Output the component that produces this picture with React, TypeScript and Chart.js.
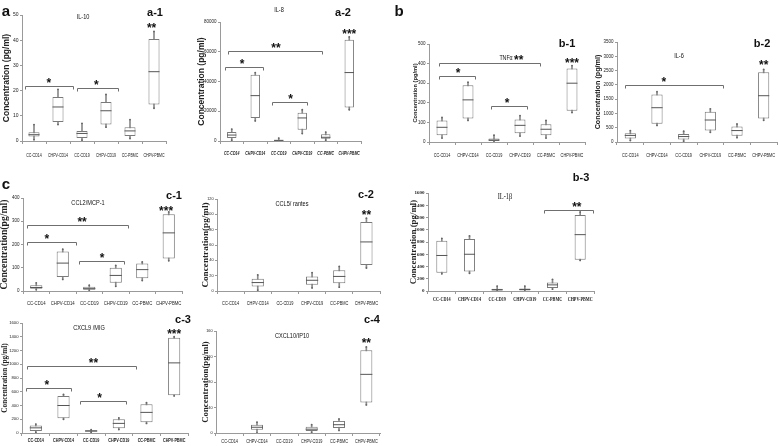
import { useEffect, useRef } from 'react';
import { Chart, registerables } from 'chart.js';
Chart.register(...registerables);

// ---------- data ----------
const groups = ['CC-CD14', 'CHPV-CD14', 'CC-CD19', 'CHPV-CD19', 'CC-PBMC', 'CHPV-PBMC'];

// each entry: [min, q1, median, q3, max]
const il10Box = [[0.5, 1.8, 2.5, 3.5, 6.5], [6.5, 7.5, 13.5, 17.5, 20.5], [0.3, 1.2, 3, 4, 7], [5.5, 6.5, 12, 15.5, 18.5], [1, 2, 4, 5.5, 8.5], [13, 14.5, 27.5, 40.5, 43.5]];
const il8Box = [[500, 2000, 4000, 6000, 8000], [13500, 15500, 30500, 44500, 46000], [0, 200, 400, 800, 2000], [5000, 7500, 15500, 19000, 21000], [500, 1500, 2500, 4500, 6000], [21000, 22500, 46000, 68000, 70000]];
const tnfBox = [[20, 35, 75, 110, 125], [110, 120, 215, 290, 305], [0, 5, 10, 18, 35], [30, 45, 85, 115, 135], [20, 35, 65, 90, 110], [150, 160, 300, 375, 390]];
const il6Box = [[50, 120, 230, 310, 400], [580, 640, 1200, 1660, 1760], [30, 90, 190, 280, 380], [340, 400, 770, 1060, 1160], [150, 220, 400, 540, 630], [760, 820, 1620, 2440, 2540]];
const il1bBox = [[280, 300, 580, 820, 860], [290, 320, 600, 850, 900], [0, 10, 20, 35, 80], [0, 10, 25, 40, 80], [30, 50, 100, 140, 190], [500, 510, 920, 1240, 1290]];
const ccl2Box = [[5, 10, 15, 25, 35], [50, 60, 120, 170, 180], [0, 5, 10, 18, 25], [20, 35, 67, 100, 110], [45, 55, 92, 118, 125], [130, 140, 250, 330, 340]];
const ccl5Box = [null, [1, 6, 11, 16, 21], null, [4, 8, 14, 19, 24], [5, 10, 19, 27, 32], [30, 34, 64, 90, 95]];
const cxcl9Box = [[10, 30, 75, 110, 130], [200, 215, 400, 540, 560], [10, 20, 30, 40, 50], [50, 70, 140, 200, 220], [140, 155, 300, 420, 440], [540, 550, 1020, 1385, 1400]];
const cxcl10Box = [null, [0, 5, 9, 13, 17], null, [1, 3, 6, 10, 13], [4, 8, 13, 19, 22], [44, 48, 92, 130, 135]];

// y tick labels
const il10Ticks = [0, 10, 20, 30, 40, 50];
const il8Ticks = [0, 20000, 40000, 60000, 80000];
const tnfTicks = [0, 100, 200, 300, 400, 500];
const il6Ticks = [0, 500, 1000, 1500, 2000, 2500, 3000, 3500];
const il1bTicks = [0, 200, 400, 600, 800, 1000, 1200, 1400, 1600];
const ccl2Ticks = [0, 100, 200, 300, 400];
const ccl5Ticks = [0, 20, 40, 60, 80, 100, 120];
const cxcl9Ticks = [0, 200, 400, 600, 800, 1000, 1200, 1400, 1600];
const cxcl10Ticks = [0, 40, 80, 120, 160];

// significance: [fromGroup, toGroup, level, label, labelGroup] (from/to null = star only)
const il10Sig = [[-0.38, 1.63, 22, '*', 0.62], [1.79, 3.5, 21, '*', 2.6], [null, null, 46, '**', 4.9]];
const il8Sig = [[-0.16, 3.84, 60500, '**', 1.88], [-0.29, 1.33, 49800, '*', 0.44], [1.7, 3.2, 26000, '*', 2.5], [null, null, 74000, '***', 5]];
const tnfSig = [[-0.12, 3.77, 402, '**', 2.95], [-0.12, 1.27, 338, '*', 0.62], [1.88, 3.27, 183, '*', 2.5], [null, null, 420, '***', 5]];
const il6Sig = [[-0.2, 3.47, 1983, '*', 1.26], [null, null, 2800, '**', 5]];
const il1bSig = [[3.69, 5.46, 1327, '**', 4.88]];
const ccl2Sig = [[-0.35, 3.46, 283, '**', 1.73], [-0.35, 1.5, 211, '*', 0.4], [1.61, 3.31, 129, '*', 2.48], [null, null, 357, '***', 4.9]];
const ccl5Sig = [[null, null, 103, '**', 5]];
const cxcl9Sig = [[-0.32, 3.63, 972, '**', 2.08], [-0.36, 1.28, 658, '*', 0.4], [1.6, 3.27, 460, '*', 2.3], [null, null, 1484, '***', 5]];
const cxcl10Sig = [[null, null, 146, '**', 5]];

// ---------- styles ----------
const SANS = "'Liberation Sans', Arial, sans-serif";
const SERIF = "'Liberation Serif', 'Times New Roman', serif";
const XH = 20;
const PAD_TOP = 8;
const PAD_RIGHT = 12;

const panels = [
  { id: 'a1', box: il10Box, ticks: il10Ticks, sig: il10Sig, yTitle: 'Concentration (pg/ml)', axisX: 22, right: 166, topPx: 15, zeroPx: 141, yW: 20, boxFrac: 0.46, labDy: 14,
    xFont: { family: SANS, size: 5.5 }, xW: 20, yFont: { family: SANS, size: 5 }, tFont: { family: SANS, size: 8.5, weight: 'bold' } },
  { id: 'a2', box: il8Box, ticks: il8Ticks, sig: il8Sig, yTitle: 'Concentration (pg/ml)', axisX: 220, right: 361, topPx: 22, zeroPx: 141, yW: 23, boxFrac: 0.4, labDy: 13,
    xFont: { family: SANS, size: 5, weight: 'bold', style: 'italic' }, xW: 20, yFont: { family: SANS, size: 4.5 }, tFont: { family: SANS, size: 8.5, weight: 'bold' } },
  { id: 'b1', box: tnfBox, ticks: tnfTicks, sig: tnfSig, yTitle: 'Concentration (pg/ml)', axisX: 429, right: 585, topPx: 44, zeroPx: 142, yW: 17, boxFrac: 0.42, labDy: 13,
    xFont: { family: SANS, size: 5.5 }, xW: 21.5, yFont: { family: SANS, size: 4.5 }, tFont: { family: SANS, size: 5.7, weight: 'bold' } },
  { id: 'b2', box: il6Box, ticks: il6Ticks, sig: il6Sig, yTitle: 'Concentration (pg/ml)', axisX: 617, right: 777, topPx: 42, zeroPx: 142, yW: 23, boxFrac: 0.42, labDy: 13,
    xFont: { family: SANS, size: 5.5 }, xW: 21.5, yFont: { family: SANS, size: 4.5 }, tFont: { family: SANS, size: 7.2, weight: 'bold' } },
  { id: 'b3', box: il1bBox, ticks: il1bTicks, sig: il1bSig, yTitle: 'Concentration (pg/ml)', axisX: 428, right: 594, topPx: 193, zeroPx: 291, yW: 20, boxFrac: 0.4, labDy: 8,
    xFont: { family: SERIF, size: 6, weight: 'bold' }, xW: 23, yFont: { family: SERIF, size: 5, weight: 'bold' }, tFont: { family: SERIF, size: 8.9, weight: 'bold' } },
  { id: 'c1', box: ccl2Box, ticks: ccl2Ticks, sig: ccl2Sig, yTitle: 'Concentration(pg/ml)', axisX: 23, right: 182, topPx: 198, zeroPx: 291, yW: 24, boxFrac: 0.46, labDy: 12,
    xFont: { family: SANS, size: 6 }, xW: 24, yFont: { family: SANS, size: 4.5 }, tFont: { family: SERIF, size: 9.7, weight: 'bold' } },
  { id: 'c2', box: ccl5Box, ticks: ccl5Ticks, sig: ccl5Sig, yTitle: 'Concentration(pg/ml)', axisX: 217, right: 380, topPx: 199, zeroPx: 291, yW: 17, boxFrac: 0.45, labDy: 12,
    xFont: { family: SANS, size: 5.5 }, xW: 22, yFont: { family: SANS, size: 3.8 }, tFont: { family: SERIF, size: 9.2, weight: 'bold' } },
  { id: 'c3', box: cxcl9Box, ticks: cxcl9Ticks, sig: cxcl9Sig, yTitle: 'Concentration (pg/ml)', axisX: 22, right: 188, topPx: 323, zeroPx: 433, yW: 21, boxFrac: 0.44, labDy: 7.5,
    xFont: { family: SANS, size: 5, weight: 'bold' }, xW: 21, yFont: { family: SANS, size: 4.2 }, tFont: { family: SERIF, size: 7.3, weight: 'bold' } },
  { id: 'c4', box: cxcl10Box, ticks: cxcl10Ticks, sig: cxcl10Sig, yTitle: 'Concentration(pg/ml)', axisX: 216, right: 380, topPx: 331, zeroPx: 433, yW: 16, boxFrac: 0.44, labDy: 8,
    xFont: { family: SANS, size: 5.5 }, xW: 21.5, yFont: { family: SANS, size: 3.8 }, tFont: { family: SERIF, size: 8.8, weight: 'bold' } },
];

const texts = [
  { t: 'a', x: 6, y: 10, size: 15, bold: true, fam: SANS, sx: 1 },
  { t: 'b', x: 399, y: 10, size: 15, bold: true, fam: SANS, sx: 1 },
  { t: 'c', x: 6, y: 183, size: 15, bold: true, fam: SANS, sx: 1 },
  { t: 'a-1', x: 155, y: 12, size: 11, bold: true, fam: SANS, sx: 1 },
  { t: 'a-2', x: 343, y: 12, size: 11, bold: true, fam: SANS, sx: 1 },
  { t: 'b-1', x: 567, y: 43, size: 11, bold: true, fam: SANS, sx: 1 },
  { t: 'b-2', x: 762, y: 43, size: 11, bold: true, fam: SANS, sx: 1 },
  { t: 'b-3', x: 581, y: 177, size: 11, bold: true, fam: SANS, sx: 1 },
  { t: 'c-1', x: 174, y: 195, size: 11, bold: true, fam: SANS, sx: 1 },
  { t: 'c-2', x: 366, y: 194, size: 11, bold: true, fam: SANS, sx: 1 },
  { t: 'c-3', x: 183, y: 319, size: 11, bold: true, fam: SANS, sx: 1 },
  { t: 'c-4', x: 372, y: 319, size: 11, bold: true, fam: SANS, sx: 1 },
  { t: 'IL-10', x: 83, y: 16, size: 7, bold: false, fam: SANS, sx: 0.8 },
  { t: 'IL-8', x: 279, y: 9, size: 7, bold: false, fam: SANS, sx: 0.8 },
  { t: 'TNFα', x: 506, y: 57, size: 7, bold: false, fam: SANS, sx: 0.75 },
  { t: 'IL-6', x: 679, y: 55, size: 7, bold: false, fam: SANS, sx: 0.8 },
  { t: 'IL-1β', x: 505, y: 197, size: 7.5, bold: false, fam: SERIF, sx: 0.85 },
  { t: 'CCL2/MCP-1', x: 88, y: 202, size: 7, bold: false, fam: SANS, sx: 0.8 },
  { t: 'CCL5/ rantes', x: 292, y: 203, size: 7, bold: false, fam: SANS, sx: 0.8 },
  { t: 'CXCL9 /MIG', x: 89, y: 327, size: 7, bold: false, fam: SANS, sx: 0.8 },
  { t: 'CXCL10/IP10', x: 292, y: 335, size: 7, bold: false, fam: SANS, sx: 0.8 },
];

function fontStr(f: any) {
  return `${f.style || 'normal'} ${f.weight || 'normal'} ${f.size}px ${f.family}`;
}

function BoxPanel({ p }: { p: any }) {
  const ref = useRef<HTMLCanvasElement>(null);
  const left = p.axisX - p.yW;
  const top = p.topPx - PAD_TOP;
  const width = p.right + PAD_RIGHT - left;
  const height = p.zeroPx + XH - top;

  useEffect(() => {
    const ticks = p.ticks;
    const ymax = ticks[ticks.length - 1];
    const step = ticks[1] - ticks[0];
    const catW = (p.right - p.axisX) / groups.length;
    const boxPx = p.boxFrac * catW;

    const whisk = p.box.map((b: any) => (b ? [b[0], b[4]] : null));
    const boxes = p.box.map((b: any) => (b ? [b[1], b[3]] : null));
    const med = p.box.map((b: any) => (b ? b[2] : null));
    const mins = p.box.map((b: any) => (b ? b[0] : null));
    const maxs = p.box.map((b: any) => (b ? b[4] : null));

    const annPlugin = {
      id: 'ann_' + p.id,
      afterDatasetsDraw(chart: any) {
        const ctx = chart.ctx;
        const xs = chart.scales.x;
        const ys = chart.scales.y;
        ctx.save();
        // category labels (condensed)
        ctx.font = fontStr(p.xFont);
        ctx.fillStyle = '#222';
        ctx.textAlign = 'center';
        ctx.textBaseline = 'middle';
        const sx = p.xW / ctx.measureText('CHPV-CD14').width;
        groups.forEach((g, i) => {
          ctx.save();
          ctx.translate(xs.getPixelForValue(i), xs.top + p.labDy);
          ctx.scale(sx, 1);
          ctx.fillText(g, 0, 0);
          ctx.restore();
        });
        // significance brackets and stars
        ctx.strokeStyle = '#6f6f6f';
        ctx.lineWidth = 1;
        ctx.fillStyle = '#111';
        const fs = 12;
        ctx.font = `bold ${fs}px ${SANS}`;
        ctx.textAlign = 'center';
        ctx.textBaseline = 'alphabetic';
        p.sig.forEach((s: any) => {
          const [x1, x2, lvl, label, lx] = s;
          const py = Math.round(ys.getPixelForValue(lvl)) + 0.5;
          let cy = py;
          if (x1 !== null) {
            const a = Math.round(xs.getPixelForValue(x1)) + 0.5;
            const b = Math.round(xs.getPixelForValue(x2)) + 0.5;
            ctx.beginPath();
            ctx.moveTo(a, py + 3);
            ctx.lineTo(a, py);
            ctx.lineTo(b, py);
            ctx.lineTo(b, py + 3);
            ctx.stroke();
            cy = py - 6;
          }
          ctx.fillText(label, xs.getPixelForValue(lx), cy + fs * 0.58);
        });
        ctx.restore();
      },
    };

    const chart = new Chart(ref.current as HTMLCanvasElement, {
      type: 'bar',
      data: {
        labels: groups,
        datasets: [
          { type: 'bar', data: whisk, barThickness: 1, backgroundColor: '#8a8a8a', grouped: false, order: 5 } as any,
          { type: 'bar', data: boxes, backgroundColor: '#ffffff', borderColor: '#7a7a7a', borderWidth: 1, borderSkipped: false,
            barPercentage: p.boxFrac, categoryPercentage: 1, grouped: false, order: 4 } as any,
          { type: 'line', data: med, showLine: false, pointStyle: 'line', pointRadius: boxPx / 2, pointBorderColor: '#555', pointBorderWidth: 1, order: 3 } as any,
          { type: 'line', data: mins, showLine: false, pointStyle: 'circle', pointRadius: 0.9, pointBackgroundColor: '#666', pointBorderWidth: 0, order: 2 } as any,
          { type: 'line', data: maxs, showLine: false, pointStyle: 'circle', pointRadius: 0.9, pointBackgroundColor: '#666', pointBorderWidth: 0, order: 1 } as any,
        ],
      },
      options: {
        responsive: false,
        animation: false,
        devicePixelRatio: 1,
        events: [],
        layout: { padding: { top: PAD_TOP, right: PAD_RIGHT, left: 0, bottom: 0 } },
        plugins: { legend: { display: false }, tooltip: { enabled: false }, title: { display: false } },
        scales: {
          x: {
            type: 'category',
            offset: true,
            grid: { display: true, drawOnChartArea: false, drawTicks: true, tickLength: 3, color: '#9a9a9a', offset: true },
            border: { display: true, color: '#9a9a9a' },
            ticks: { display: false },
            afterFit: (s: any) => { s.height = XH; },
          },
          y: {
            min: 0,
            max: ymax,
            grid: { display: true, drawOnChartArea: false, drawTicks: true, tickLength: 2, color: '#9a9a9a' },
            border: { display: true, color: '#9a9a9a' },
            ticks: { stepSize: step, font: p.yFont, color: '#222', padding: 1.5, callback: (v: any) => String(v) },
            title: { display: true, text: p.yTitle, font: p.tFont, color: '#222', padding: 0 },
            afterFit: (s: any) => { s.width = p.yW; },
          },
        },
      } as any,
      plugins: [annPlugin],
    });
    return () => chart.destroy();
  }, []);

  return (
    <canvas
      ref={ref}
      width={width}
      height={height}
      style={{ position: 'absolute', left, top, width, height }}
    />
  );
}

export default function App() {
  return (
    <div style={{ position: 'absolute', left: 0, top: 0, width: 778, height: 446, overflow: 'hidden', background: '#fff' }}>
      {panels.map((p) => (
        <BoxPanel key={p.id} p={p} />
      ))}
      {texts.map((t, i) => (
        <div
          key={i}
          style={{
            position: 'absolute',
            left: t.x,
            top: t.y,
            transform: `translate(-50%, -50%) scaleX(${t.sx})`,
            whiteSpace: 'nowrap',
            fontFamily: t.fam,
            fontSize: t.size,
            fontWeight: t.bold ? 'bold' : 'normal',
            lineHeight: 1,
            color: '#111',
          }}
        >
          {t.t}
        </div>
      ))}
    </div>
  );
}
